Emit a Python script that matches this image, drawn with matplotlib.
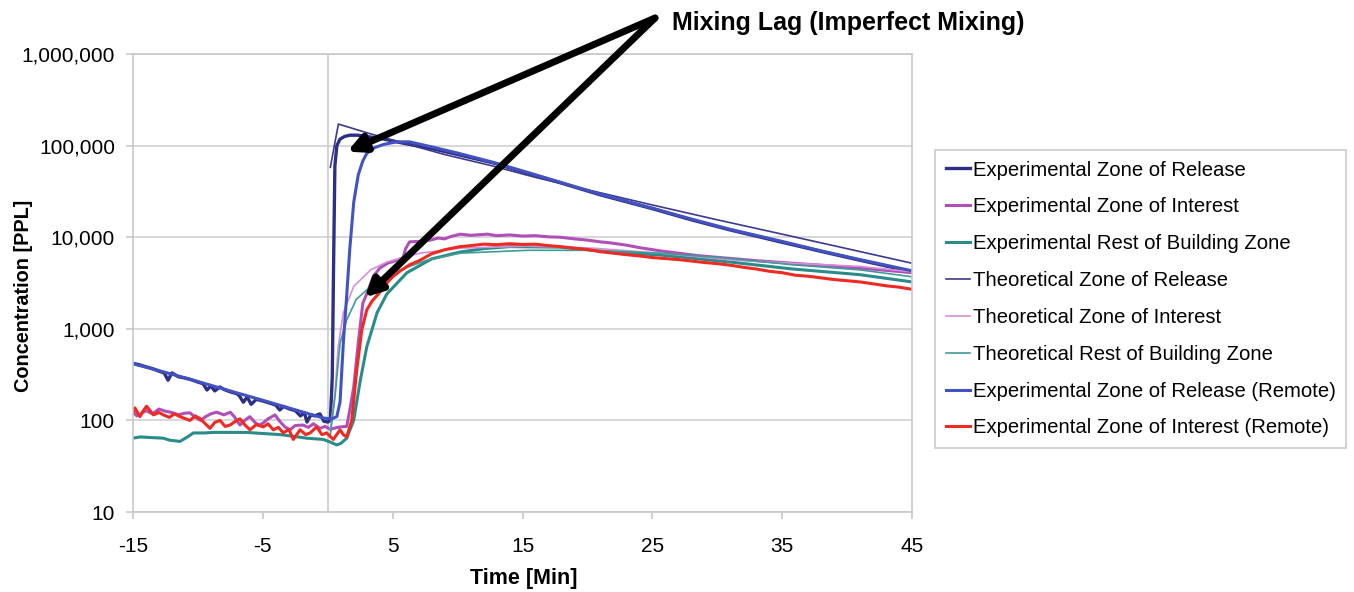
import matplotlib
matplotlib.use("Agg")
import matplotlib.pyplot as plt
from matplotlib import font_manager
from matplotlib.ticker import FuncFormatter, FixedLocator, NullLocator

plt.rcParams["axes.unicode_minus"] = False

# Fonts: narrow Arial-like for axis text if present
_names = {f.name for f in font_manager.fontManager.ttflist}
NARROW = "Liberation Sans Narrow" if "Liberation Sans Narrow" in _names else "Liberation Sans"
REGULAR = "Liberation Sans"

# ---- data (time in minutes, concentration in PPL) ----
t_exp_release = [-15, -14.5, -14, -13.5, -13, -12.6, -12.3, -12, -11.5, -11, -10.5, -10, -9.6, -9.3,
                 -9, -8.7, -8.3, -8, -7.5, -7, -6.8, -6.5, -6.2, -5.9, -5.5, -5, -4.5, -4, -3.7,
                 -3.4, -3, -2.5, -2.1, -1.8, -1.6, -1.3, -1, -0.6, -0.3, 0, 0.2, 0.35, 0.45, 0.55,
                 0.7, 0.95, 1.3, 1.7, 2.3, 3, 4.3, 6, 8, 10, 12.7, 15, 18, 21, 25, 28, 31, 35, 38,
                 41, 45]
c_exp_release = [420, 405, 385, 368, 345, 330, 275, 330, 300, 290, 278, 262, 252, 215,
                 238, 210, 232, 218, 205, 196, 185, 158, 180, 150, 170, 163, 155, 147, 130,
                 142, 134, 128, 112, 122, 96, 115, 112, 118, 98, 96, 100, 300, 5000, 60000,
                 100000, 118000, 126000, 130000, 130000, 126000, 118000, 105000, 93000, 80000,
                 65000, 52000, 39000, 29000, 20500, 15500, 12000, 8800, 7000, 5600, 4200]

t_exp_interest = [-15, -14.7, -14.3, -14, -13.5, -13, -12.5, -12, -11.5, -11, -10.6, -10.2, -9.8,
                  -9.4, -9, -8.55, -8, -7.5, -7.2, -6.76, -6.4, -6, -5.6, -5.3, -5, -4.6, -4.06,
                  -3.7, -3.3, -2.9, -2.5, -1.9, -1.5, -1.1, -0.6, -0.2, 0.2, 0.6, 1.0, 1.46, 1.7,
                  2.0, 2.35, 2.7, 3.1, 3.5, 4.0, 4.6, 5.3, 5.8, 6.0, 6.3, 7.0, 7.9, 8.5, 9, 9.5,
                  10.2, 11, 12.3, 13, 14, 15, 16, 17, 17.9, 19, 20, 21, 21.7, 23, 24, 25.6, 27,
                  28.5, 30.8, 33, 35.8, 38, 41, 43, 45]
c_exp_interest = [125, 112, 120, 128, 118, 133, 126, 122, 115, 120, 121, 108, 100,
                  110, 118, 123, 115, 123, 110, 89, 100, 110, 95, 89, 93, 104, 115,
                  98, 85, 79, 88, 89, 84, 92, 82, 86, 80, 83, 85, 86, 130,
                  230, 700, 1900, 2600, 3700, 4600, 5200, 5600, 6000, 7500, 8900, 9000, 9300, 9800,
                  9600, 10200, 10800, 10500, 10800, 10400, 10600, 10300, 10400, 10100, 10000, 9600,
                  9300, 8900, 8700, 8200, 7700, 7100, 6700, 6300, 5900, 5550, 5200, 4950, 4600,
                  4350, 4100]

t_exp_rest = [-15, -14.46, -13.6, -12.66, -12.2, -11.38, -10.8, -10.35, -9.5, -8.81, -7.5, -6.25,
              -5, -3.68, -2.6, -1.62, -0.34, 0.2, 0.56, 0.69, 1.0, 1.46, 2.0, 2.5, 3.0, 3.8,
              4.55, 6.1, 8, 10.2, 12, 14, 17.9, 21.7, 25.6, 30.8, 35.8, 41, 45]
c_exp_rest = [64, 66, 65, 64, 61, 59, 66, 73, 73, 74, 74, 74,
              72, 70, 67, 64, 62, 58, 55, 54, 56, 64, 100, 270, 630, 1500,
              2400, 4100, 5800, 6900, 7500, 7900, 7800, 6900, 6400, 5400, 4500, 3900, 3250]

t_theo_release = [0.2, 0.82, 3.26, 6, 9, 12.7, 16, 20, 25, 30, 35, 40, 45]
c_theo_release = [58000, 172000, 135000, 105000, 80000, 60000, 45000, 33000, 22500, 15500,
                  10800, 7500, 5200]

t_theo_interest = [0.2, 0.56, 0.8, 1.2, 2.0, 3.3, 4.6, 7.1, 10.2, 15.4, 20.4, 25.6, 30.8, 35.8,
                   41, 45]
c_theo_interest = [80, 200, 630, 1500, 2900, 4400, 5400, 6700, 7600, 8000, 7600, 6700, 5700,
                   5200, 4800, 4200]

t_theo_rest = [0.2, 0.56, 0.95, 1.46, 2.2, 3.3, 5.0, 7.6, 10.2, 15.4, 20.4, 25.6, 30.8, 35.8,
               41, 45]
c_theo_rest = [70, 180, 700, 1250, 2100, 2900, 4100, 5600, 6700, 7200, 7200, 6700, 5900, 5000,
               4400, 3700]

t_remote_release = [-15, -13, -11, -9, -7, -5, -3, -1, -0.3, 0.3, 0.7, 0.95, 1.2, 1.46, 1.7,
                    2.0, 2.35, 2.7, 3.0, 3.6, 4.3, 5.3, 6.3, 8, 10, 12.7, 15, 18, 21, 25, 28,
                    31, 35, 38, 41, 45]
c_remote_release = [415, 350, 292, 242, 200, 166, 137, 113, 106, 104, 110, 160, 700, 2300, 7500,
                    24000, 48000, 68000, 82000, 95000, 103000, 110000, 110000, 97000, 83000,
                    66000, 53000, 39500, 29500, 20800, 15800, 12200, 9000, 7100, 5700, 4300]

t_remote_interest = [-15, -14.85, -14.46, -14.2, -13.95, -13.43, -13.0, -12.66, -12.2, -11.8,
                     -11.38, -10.61, -10.2, -9.84, -9.07, -8.7, -8.3, -7.9, -7.53, -7.1, -6.76,
                     -6.4, -5.99, -5.5, -4.96, -4.6, -4.19, -3.8, -3.42, -3.0, -2.65, -2.13,
                     -1.7, -1.36, -0.85, -0.45, -0.08, 0.43, 0.95, 1.2, 1.46, 1.85, 2.23, 2.62,
                     3.0, 3.4, 3.9, 4.4, 5.0, 5.6, 6.3, 7.1, 8, 9, 10.2, 11, 12, 13, 14, 15, 16,
                     17, 17.9, 19, 20, 21, 22, 23, 24, 25, 26, 27, 28, 29, 30, 31, 32, 33, 34,
                     35, 36, 37, 38, 39, 40, 41, 42, 43, 44, 45]
c_remote_interest = [120, 137, 110, 128, 143, 115, 122, 115, 108, 118, 110, 100, 112, 105, 82,
                     95, 100, 86, 89, 98, 104, 90, 79, 90, 85, 92, 79, 84, 73, 80, 62, 79, 70,
                     73, 85, 70, 73, 62, 79, 70, 66, 100, 350, 970, 1600, 2000, 2400, 3000, 3700,
                     4300, 5000, 5600, 6600, 7300, 7900, 8100, 8400, 8300, 8500, 8350, 8400, 8100,
                     7900, 7600, 7350, 6950, 6700, 6450, 6250, 6000, 5850, 5700, 5500, 5300, 5150,
                     4950, 4700, 4500, 4250, 4100, 3850, 3750, 3600, 3450, 3350, 3250, 3100, 2950,
                     2850, 2700]

series = [
    ("Experimental Zone of Release", t_exp_release, c_exp_release, "#2b2f86", 2.4),
    ("Experimental Zone of Interest", t_exp_interest, c_exp_interest, "#b04fb8", 2.2),
    ("Experimental Rest of Building Zone", t_exp_rest, c_exp_rest, "#2a8c8a", 2.2),
    ("Theoretical Zone of Release", t_theo_release, c_theo_release, "#3c3a8e", 1.2),
    ("Theoretical Zone of Interest", t_theo_interest, c_theo_interest, "#d48fd8", 1.2),
    ("Theoretical Rest of Building Zone", t_theo_rest, c_theo_rest, "#3d9c98", 1.2),
    ("Experimental Zone of Release (Remote)", t_remote_release, c_remote_release, "#4352c2", 2.2),
    ("Experimental Zone of Interest (Remote)", t_remote_interest, c_remote_interest, "#ee2a22", 2.2),
]

x_ticks = [-15, -5, 5, 15, 25, 35, 45]
y_ticks = [10, 100, 1000, 10000, 100000, 1000000]

fig = plt.figure(figsize=(13.54, 5.92), dpi=100)
ax = fig.add_axes([0.0982, 0.1351, 0.5754, 0.7736])

ax.set_yscale("log")
ax.set_xlim(-15, 45)
ax.set_ylim(10, 1000000)

# gridlines and the release marker at t=0
for yv in y_ticks:
    ax.axhline(yv, color="#d4d4d4", lw=1.3, zorder=0)
ax.axvline(0, color="#cfcfcf", lw=1.3, zorder=0)

for label, tt, cc, col, lw in series:
    ax.plot(tt, cc, color=col, lw=lw, label=label, solid_joinstyle="round")

for s in ax.spines.values():
    s.set_color("#c8c8c8")
    s.set_linewidth(1.2)

ax.xaxis.set_major_locator(FixedLocator(x_ticks))
ax.yaxis.set_major_locator(FixedLocator(y_ticks))
ax.yaxis.set_minor_locator(NullLocator())
ax.yaxis.set_major_formatter(FuncFormatter(lambda v, p: f"{int(round(v)):,}"))
ax.tick_params(axis="both", direction="out", length=5, width=1.2, color="#c8c8c8",
               labelsize=15)
ax.tick_params(axis="x", pad=13)
ax.tick_params(axis="y", pad=8)
for lab in ax.get_xticklabels() + ax.get_yticklabels():
    lab.set_family(NARROW)

ax.set_xlabel("Time [Min]", family=NARROW, fontweight="bold", fontsize=15.5)
ax.xaxis.set_label_coords(0.502, -0.122)
ax.set_ylabel("Concentration [PPL]", family=NARROW, fontweight="bold", fontsize=14.3)
ax.yaxis.set_label_coords(-0.128, 0.472)

leg = ax.legend(loc="upper left", bbox_to_anchor=(935 / 1354, 1 - 150 / 592),
                bbox_transform=fig.transFigure, borderaxespad=0, frameon=True, fancybox=False,
                prop={"family": REGULAR, "size": 14.6}, handlelength=1.2, handletextpad=0.15,
                labelspacing=0.88, borderpad=0.52)
leg.get_frame().set_edgecolor("#bdbdbd")
leg.get_frame().set_linewidth(1.2)

# annotation arrows
start = (655 / 1354, 1 - 18 / 592)
for tip in [(1.5, 86000), (2.85, 2200)]:
    ax.annotate("", xy=tip, xycoords="data", xytext=start, textcoords="figure fraction",
                arrowprops=dict(arrowstyle="-|>", lw=5, color="black", mutation_scale=26,
                                shrinkA=0, shrinkB=0))
fig.text(672 / 1354, 1 - 23 / 592, "Mixing Lag (Imperfect Mixing)", family=NARROW,
         fontweight="bold", fontsize=18, va="center", ha="left")

fig.savefig("out.png", dpi=100)
